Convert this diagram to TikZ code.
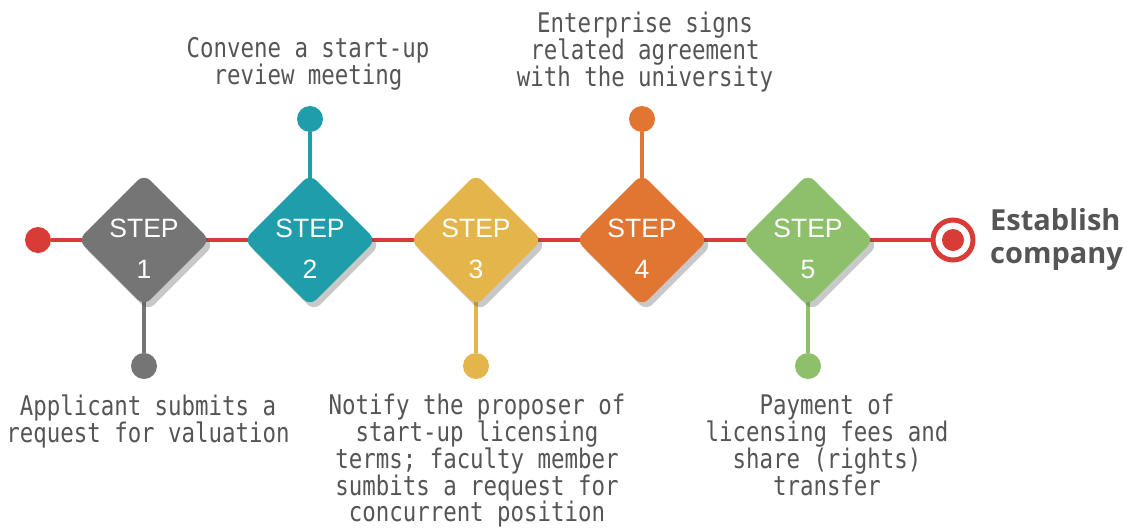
\documentclass[tikz,border=0pt]{standalone}
\usepackage{fontspec}
\setmainfont{Liberation Sans}
\newfontfamily\notefont[FakeStretch=0.83]{DejaVu Sans Mono}
\newfontfamily\endfont{Open Sans}
\usetikzlibrary{shapes.geometric,shadows,backgrounds}

\definecolor{stepgrey}{HTML}{757575}
\definecolor{stepteal}{HTML}{1F9DAB}
\definecolor{stepyellow}{HTML}{E4B54B}
\definecolor{steporange}{HTML}{E07632}
\definecolor{stepgreen}{HTML}{8EBF6B}
\definecolor{linered}{HTML}{D93B36}
\definecolor{notegrey}{HTML}{555555}

\begin{document}
\begin{tikzpicture}[x=1pt, y=1pt,
	stepbox/.style={diamond, minimum width=132, minimum height=132, inner sep=0, rounded corners=9,
		drop shadow={shadow xshift=4pt, shadow yshift=-5pt, opacity=0.3, fill=black!70}},
	steptext/.style={text=white, font=\fontsize{26.5}{41}\selectfont, align=center, inner sep=0, yshift=-9},
	dot/.style={circle, minimum size=26, inner sep=0},
	stem/.style={line width=4.5},
	redline/.style={line width=3.5, draw=linered},
	note/.style={text=notegrey, font=\notefont\fontsize{27}{26.8}\selectfont, align=center, inner sep=0}]
			%%%%% START %%%%%
			
			\useasboundingbox (0,0) rectangle (1128,-528);
			
			\node[dot, fill=linered] (start) at (38,-240) {};
			
			% the five steps
			\node[stepbox, fill=stepgrey] (s1) at (144,-240) {};
			\node[steptext] (n1) at (s1) {STEP\\1};
			\node[stepbox, fill=stepteal] (s2) at (310,-240) {};
			\node[steptext] (n2) at (s2) {STEP\\2};
			\node[stepbox, fill=stepyellow] (s3) at (476,-240) {};
			\node[steptext] (n3) at (s3) {STEP\\3};
			\node[stepbox, fill=steporange] (s4) at (642,-240) {};
			\node[steptext] (n4) at (s4) {STEP\\4};
			\node[stepbox, fill=stepgreen] (s5) at (808,-240) {};
			\node[steptext] (n5) at (s5) {STEP\\5};
			
			% end mark
			\node[circle, draw=linered, line width=5, fill=white, minimum size=40, inner sep=0] (fin) at (953,-240) {};
			\node[circle, fill=linered, minimum size=22, inner sep=0] (fincore) at (fin) {};
			\node[anchor=north west, text=notegrey, font=\endfont\bfseries\fontsize{29}{33}\selectfont, align=left, inner sep=0] (est) at (990,-208) {Establish\\company};
			
			% dots on the stems
			\node[dot, fill=stepgrey] (d1) at (144,-366) {};
			\node[dot, fill=stepteal] (d2) at (310,-119) {};
			\node[dot, fill=stepyellow] (d3) at (476,-366) {};
			\node[dot, fill=steporange] (d4) at (642,-119) {};
			\node[dot, fill=stepgreen] (d5) at (808,-366) {};
			
			\begin{pgfonlayer}{background}
			\fill[white] (0,0) rectangle (1128,-528);
			\draw[redline] (start) -- (s1.center) -- (s2.center) -- (s3.center) -- (s4.center) -- (s5.center) -- (fin);
			\draw[stem, draw=stepgrey] (s1.center) -- (d1);
			\draw[stem, draw=stepteal] (s2.center) -- (d2);
			\draw[stem, draw=stepyellow] (s3.center) -- (d3);
			\draw[stem, draw=steporange] (s4.center) -- (d4);
			\draw[stem, draw=stepgreen] (s5.center) -- (d5);
			\end{pgfonlayer}
			
			% texts
			\node[note, anchor=north] (t1) at (148,-395) {Applicant submits a\\request for valuation};
			\node[note, anchor=north] (t2) at (308,-37) {Convene a start-up\\review meeting};
			\node[note, anchor=north] (t3) at (477,-394) {Notify the proposer of\\start-up licensing\\terms; faculty member\\sumbits a request for\\concurrent position};
			\node[note, anchor=north] (t4) at (645,-12) {Enterprise signs\\related agreement\\with the university};
			\node[note, anchor=north] (t5) at (827,-394) {Payment of\\licensing fees and\\share (rights)\\transfer};
			
			%%%%% END %%%%%
\end{tikzpicture}
\end{document}
